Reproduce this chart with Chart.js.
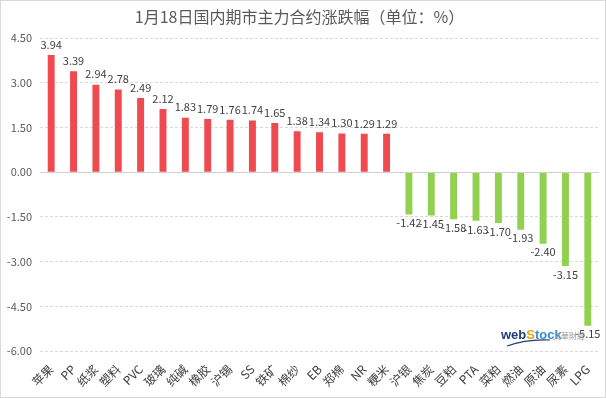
<!DOCTYPE html>
<html>
<head>
<meta charset="utf-8">
<script src="https://cdn.jsdelivr.net/npm/chart.js@4.4.0/dist/chart.umd.min.js"></script>
<style>
    html, body { margin: 0; padding: 0; background: #fff; }
    #wrap { width: 606px; height: 398px; position: relative; }
</style>
</head>
<body>
<div id="wrap"><canvas id="chart" width="606" height="398"></canvas></div>
<script>
const categories = ['苹果', 'PP', '纸浆', '塑料', 'PVC', '玻璃', '纯碱', '橡胶', '沪锡', 'SS', '铁矿', '棉纱', 'EB',
    '郑棉', 'NR', '粳米', '沪银', '焦炭', '豆粕', 'PTA', '菜粕', '燃油', '原油', '尿素', 'LPG'];
const changes = [3.94, 3.39, 2.94, 2.78, 2.49, 2.12, 1.83, 1.79, 1.76, 1.74, 1.65, 1.38, 1.34,
    1.30, 1.29, 1.29, -1.42, -1.45, -1.58, -1.63, -1.70, -1.93, -2.40, -3.15, -5.15];
const yTicks = [4.5, 3, 1.5, 0, -1.5, -3, -4.5, -6];

const FONT = '"Noto Sans CJK SC", "Open Sans", sans-serif';

// value labels, zero line, watermark and frame
const extras = {
    id: 'extras',
    afterDatasetsDraw(chart) {
        const { ctx, chartArea, scales } = chart;
        const y0 = scales.y.getPixelForValue(0);
        ctx.save();
        ctx.strokeStyle = '#d0d0d0';
        ctx.lineWidth = 1;
        ctx.beginPath();
        ctx.moveTo(chartArea.left, Math.round(y0) + 0.5);
        ctx.lineTo(chartArea.right, Math.round(y0) + 0.5);
        ctx.stroke();

        ctx.font = '11px ' + FONT;
        ctx.fillStyle = '#404040';
        ctx.textAlign = 'center';
        const meta = chart.getDatasetMeta(0);
        meta.data.forEach((bar, i) => {
            const v = changes[i];
            if (v >= 0) {
                ctx.textBaseline = 'bottom';
                ctx.fillText(v.toFixed(2), bar.x, bar.y - 5);
            } else {
                ctx.textBaseline = 'top';
                ctx.fillText(v.toFixed(2), bar.x, bar.y + 3);
            }
        });

        // watermark
        ctx.textBaseline = 'alphabetic';
        ctx.textAlign = 'left';
        ctx.font = 'bold 13px "Liberation Sans", sans-serif';
        ctx.fillStyle = '#1f3d7a';
        ctx.fillText('web', 501, 339);
        const w = ctx.measureText('web').width;
        ctx.fillStyle = '#e8a317';
        ctx.fillText('S', 501 + w, 339);
        const ws = ctx.measureText('S').width;
        ctx.fillStyle = '#3a8fd0';
        ctx.fillText('tock', 501 + w + ws, 339);
        ctx.font = '8px ' + FONT;
        ctx.fillStyle = '#9a9a9a';
        ctx.fillText('文華財經', 553, 339);
        ctx.strokeStyle = '#1f3d7a';
        ctx.lineWidth = 1.2;
        ctx.beginPath();
        ctx.moveTo(507, 346);
        ctx.quadraticCurveTo(526, 339, 550, 340);
        ctx.stroke();

        ctx.strokeStyle = '#d9d9d9';
        ctx.lineWidth = 1;
        ctx.strokeRect(0.5, 0.5, chart.width - 1, chart.height - 1);
        ctx.restore();
    }
};

new Chart(document.getElementById('chart').getContext('2d'), {
    type: 'bar',
    data: {
        labels: categories,
        datasets: [{
            data: changes,
            backgroundColor: changes.map(v => v >= 0 ? '#ee4a50' : '#92d050'),
            borderWidth: 0,
            barPercentage: 0.62,
            categoryPercentage: 0.5
        }]
    },
    options: {
        responsive: false,
        animation: false,
        layout: { padding: { left: 0, right: 7, top: 0, bottom: 0 } },
        plugins: {
            legend: { display: false },
            tooltip: { enabled: false },
            title: {
                display: true,
                text: '1月18日国内期市主力合约涨跌幅（单位：%）',
                color: '#595959',
                font: { family: FONT, size: 16, weight: 'normal' },
                padding: { top: 7, bottom: 12 }
            }
        },
        scales: {
            y: {
                min: -6,
                max: 4.5,
                afterBuildTicks: s => { s.ticks = yTicks.map(v => ({ value: v })); },
                afterFit: s => { s.width = 40; },
                ticks: {
                    color: '#595959',
                    font: { family: FONT, size: 11 },
                    padding: 8,
                    callback: v => Number(v).toFixed(2)
                },
                grid: { color: ctx => ctx.tick && ctx.tick.value === 0 ? 'rgba(0,0,0,0)' : '#d9d9d9', drawTicks: false },
                border: { display: false, dash: [3, 2] }
            },
            x: {
                afterFit: s => { s.height = 47; },
                ticks: {
                    color: '#404040',
                    font: { family: FONT, size: 12 },
                    minRotation: 45,
                    maxRotation: 45,
                    autoSkip: false,
                    padding: 3
                },
                grid: { display: false },
                border: { display: false }
            }
        }
    },
    plugins: [extras]
});
</script>
</body>
</html>
